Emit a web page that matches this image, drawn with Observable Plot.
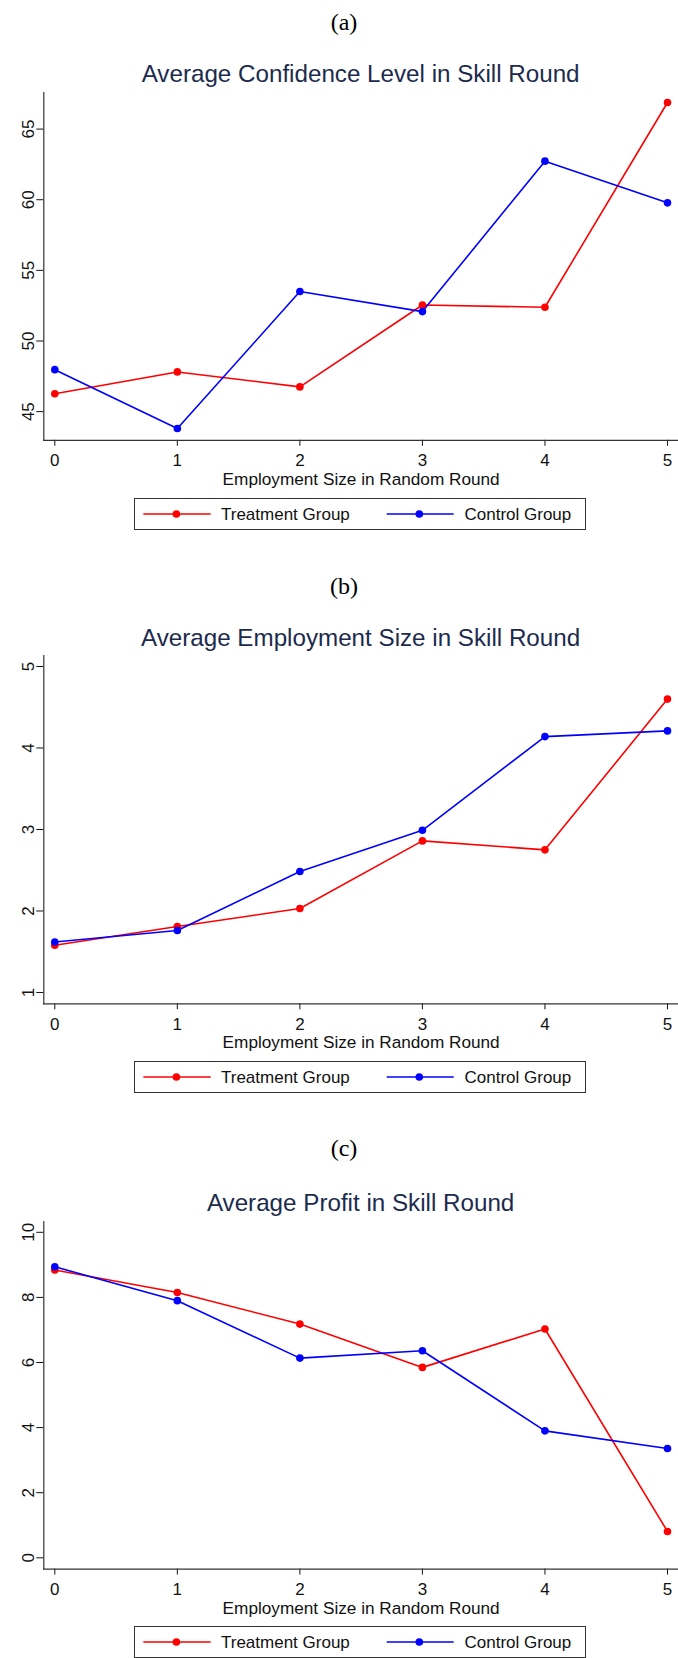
<!DOCTYPE html>
<html>
<head>
<meta charset="utf-8">
<script src="https://cdn.jsdelivr.net/npm/d3@7"></script>
<script src="https://cdn.jsdelivr.net/npm/@observablehq/plot@0.6"></script>
<style>
  html, body { margin: 0; padding: 0; background: #fff; }
  #page { position: relative; width: 678px; height: 1658px; overflow: hidden; background: #fff; font-family: "Liberation Sans", Arial, sans-serif; }
  .lbl { position: absolute; white-space: nowrap; line-height: 1; transform: translate(-50%, -50%); }
  .panel-tag { font-family: "Liberation Serif", "Times New Roman", serif; font-size: 24px; color: #000; }
  .title { font-size: 24.2px; color: #1c2b4d; }
  .legend { position: absolute; box-sizing: border-box; border: 1px solid #333; background: #fff; }
  .legend svg { position: absolute; left: 0; top: 0; overflow: visible; }
  .legend span { position: absolute; top: 50%; transform: translateY(-50%); font-size: 17px; line-height: 1; white-space: nowrap; color: #111; }
</style>
</head>
<body>
<div id="page"></div>
<script>
// ---- data ----
const xValues = [0, 1, 2, 3, 4, 5];
const seriesNames = ["Treatment Group", "Control Group"];
const seriesColors = ["#ff0000", "#0000ff"];
const panelTags = ["(a)", "(b)", "(c)"];
const panelTitles = [
  "Average Confidence Level in Skill Round",
  "Average Employment Size in Skill Round",
  "Average Profit in Skill Round"
];
const xAxisLabel = "Employment Size in Random Round";

const confTreatment = [46.27, 47.81, 46.75, 52.55, 52.39, 66.88];
const confControl   = [47.97, 43.80, 53.50, 52.08, 62.73, 59.78];
const empTreatment  = [1.58, 1.81, 2.03, 2.86, 2.75, 4.60];
const empControl    = [1.62, 1.76, 2.485, 2.99, 4.14, 4.21];
const profitTreatment = [8.84, 8.15, 7.18, 5.85, 7.03, 0.81];
const profitControl   = [8.94, 7.90, 6.135, 6.36, 3.90, 3.36];

const confTicks = [45, 50, 55, 60, 65];
const empTicks = [1, 2, 3, 4, 5];
const profitTicks = [0, 2, 4, 6, 8, 10];

const confDomain = [42.97, 67.59];
const empDomain = [0.861, 5.135];
const profitDomain = [-0.347, 10.332];

// ---- layout (page pixel positions) ----
const panels = [
  {tag: 22, title: 74, axisTop: 91.7, axisBottom: 439.5, series: [confTreatment, confControl], ticks: confTicks, domain: confDomain},
  {tag: 586, title: 638, axisTop: 655, axisBottom: 1003.3, series: [empTreatment, empControl], ticks: empTicks, domain: empDomain},
  {tag: 1148, title: 1203.3, axisTop: 1220.7, axisBottom: 1568.3, series: [profitTreatment, profitControl], ticks: profitTicks, domain: profitDomain}
];

const page = document.getElementById("page");

function addLabel(text, cls, cx, cy) {
  const d = document.createElement("div");
  d.className = "lbl " + cls;
  d.textContent = text;
  d.style.left = cx + "px";
  d.style.top = cy + "px";
  page.appendChild(d);
}

function addLegend(top) {
  const left = 134.3, w = 451.7, h = 32;
  const box = document.createElement("div");
  box.className = "legend";
  box.style.left = left + "px";
  box.style.top = top + "px";
  box.style.width = w + "px";
  box.style.height = h + "px";
  const ns = "http://www.w3.org/2000/svg";
  const svg = document.createElementNS(ns, "svg");
  svg.setAttribute("width", w);
  svg.setAttribute("height", h);
  const items = [
    {x1: 8.4, x2: 75.7, cx: 41.4, tx: 85.7},
    {x1: 251.7, x2: 318.7, cx: 284.3, tx: 329.2}
  ];
  const cy = h / 2 - 1;
  items.forEach((it, i) => {
    const ln = document.createElementNS(ns, "line");
    ln.setAttribute("x1", it.x1); ln.setAttribute("x2", it.x2);
    ln.setAttribute("y1", cy); ln.setAttribute("y2", cy);
    ln.setAttribute("stroke", seriesColors[i]); ln.setAttribute("stroke-width", 1.6);
    svg.appendChild(ln);
    const c = document.createElementNS(ns, "circle");
    c.setAttribute("cx", it.cx); c.setAttribute("cy", cy); c.setAttribute("r", 3.8);
    c.setAttribute("fill", seriesColors[i]);
    svg.appendChild(c);
    const s = document.createElement("span");
    s.textContent = seriesNames[i];
    s.style.left = it.tx + "px";
    box.appendChild(s);
  });
  box.appendChild(svg);
  page.appendChild(box);
}

panels.forEach((p, k) => {
  addLabel(panelTags[k], "panel-tag", 344, p.tag);
  addLabel(panelTitles[k], "title", 360.6, p.title);

  const mTop = 8, mBottom = 50;
  const height = (p.axisBottom - p.axisTop) + mTop + mBottom;
  const rows = [];
  p.series.forEach((vals, i) => {
    vals.forEach((v, j) => rows.push({x: xValues[j], y: v, s: seriesNames[i]}));
  });

  const chart = Plot.plot({
    width: 678,
    height,
    marginLeft: 43.3,
    marginRight: 0,
    marginTop: mTop,
    marginBottom: mBottom,
    style: {fontFamily: '"Liberation Sans", Arial, sans-serif', fontSize: "17px", color: "#111", background: "transparent", overflow: "visible"},
    x: {domain: [0, 5], insetLeft: 11, insetRight: 11},
    y: {domain: p.domain},
    color: {domain: seriesNames, range: seriesColors},
    marks: [
      Plot.axisY({ticks: p.ticks, tickSize: 7, tickRotate: -90, label: null, tickFormat: d => String(d)}),
      Plot.axisX({ticks: xValues, tickSize: 6, tickPadding: 8, label: null, tickFormat: d => String(d)}),
      Plot.frame({anchor: "left", stroke: "#333", strokeWidth: 1.2}),
      Plot.frame({anchor: "bottom", stroke: "#333", strokeWidth: 1.2}),
      Plot.line(rows, {x: "x", y: "y", z: "s", stroke: "s", strokeWidth: 1.6}),
      Plot.dot(rows, {x: "x", y: "y", fill: "s", r: 3.8}),
      Plot.text([xAxisLabel], {text: d => d, frameAnchor: "bottom", dy: 39, lineAnchor: "middle", fontSize: 17.2, fill: "#111"})
    ]
  });
  chart.style.position = "absolute";
  chart.style.left = "0px";
  chart.style.top = (p.axisTop - mTop) + "px";
  page.appendChild(chart);

  addLegend(p.axisBottom + 58);
});
</script>
</body>
</html>
